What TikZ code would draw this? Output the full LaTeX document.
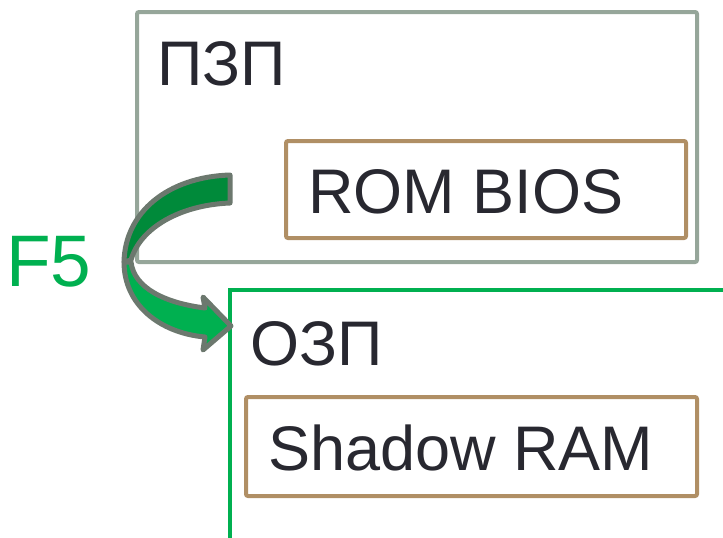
\documentclass[tikz,border=0pt]{standalone}
\usepackage{fontspec}
\setmainfont{Liberation Sans}
\definecolor{boxgray}{RGB}{150,166,154}
\definecolor{tan}{RGB}{176,143,101}
\definecolor{grn}{RGB}{0,176,80}
\definecolor{dgrn}{RGB}{0,138,58}
\definecolor{outl}{RGB}{108,120,110}
\definecolor{ink}{RGB}{40,40,48}
\begin{document}
\begin{tikzpicture}[x=1pt,y=-1pt,
  frame/.style={draw, line width=4pt, rounded corners=2pt, inner sep=0pt},
  lbl/.style={anchor=base west, inner sep=0pt, text=ink, font=\fontsize{63}{70}\selectfont},
  arrowpart/.style={draw=outl, line width=5pt, line join=round}]
\useasboundingbox (0,0) rectangle (723,538);
% PZP box
\node[frame, draw=boxgray, minimum width=560pt, minimum height=250pt] (pzp) at (417,137) {};
\node[lbl] (pzpt) at (157,85) {ПЗП};
\node[frame, draw=tan, minimum width=400pt, minimum height=97pt] (rom) at (486,189.5) {};
\node[lbl] (romt) at (308,213) {ROM BIOS};
% OZP open frame
\coordinate (ozpbl) at (230,540);
\coordinate (ozptl) at (230,290);
\coordinate (ozptr) at (725,290);
\draw[grn, line width=4pt] (ozpbl) -- (ozptl) -- (ozptr);
\node[lbl] (ozpt) at (250,365) {ОЗП};
\node[frame, draw=tan, minimum width=451pt, minimum height=99pt] (shadow) at (471.5,446.5) {};
\node[lbl] (shadowt) at (268,470) {Shadow RAM};
% F5 label
\node[anchor=base west, inner sep=0pt, text=grn, font=\fontsize{73}{80}\selectfont] (f5) at (6,286) {F5};
% curved arrow
\fill[grn] (124,262) .. controls (124,305) and (160,333) .. (205,337) -- (203,350) -- (231,326) -- (203,297) -- (205,308) .. controls (165,303) and (134,288) .. (131,262) -- cycle;
\draw[arrowpart] (124,262) .. controls (124,305) and (160,333) .. (205,337) -- (203,350) -- (231,326) -- (203,297) -- (205,308) .. controls (165,303) and (134,288) .. (131,262) -- cycle;
\fill[dgrn] (230,175) .. controls (168,177) and (125,212) .. (124,262) -- (131,260) .. controls (140,228) and (180,205) .. (230,203) -- cycle;
\draw[arrowpart] (230,175) .. controls (168,177) and (125,212) .. (124,262) -- (131,260) .. controls (140,228) and (180,205) .. (230,203) -- cycle;
\end{tikzpicture}
\end{document}
